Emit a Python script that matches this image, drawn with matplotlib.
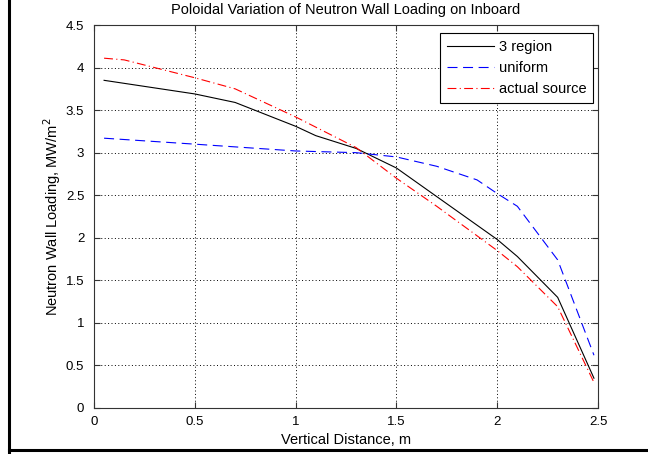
import numpy as np
import matplotlib.pyplot as plt
from matplotlib.lines import Line2D

plt.rcParams['font.family'] = ['Liberation Sans', 'DejaVu Sans']

# 3 region
x_3reg = [0.05, 0.5, 0.7, 1.0, 1.1, 1.3, 1.5, 2.0, 2.1, 2.3, 2.48]
y_3reg = [3.85, 3.69, 3.59, 3.31, 3.20, 3.05, 2.82, 1.98, 1.78, 1.30, 0.35]

# uniform
x_unif = [0.05, 0.5, 1.0, 1.3, 1.5, 1.7, 1.9, 2.0, 2.1, 2.3, 2.48]
y_unif = [3.17, 3.10, 3.02, 3.00, 2.95, 2.84, 2.68, 2.52, 2.37, 1.74, 0.62]

# actual source
x_act = [0.05, 0.15, 0.5, 0.7, 1.0, 1.3, 1.5, 1.7, 2.0, 2.1, 2.3, 2.48]
y_act = [4.11, 4.09, 3.88, 3.75, 3.42, 3.06, 2.70, 2.37, 1.85, 1.66, 1.19, 0.30]

fig = plt.figure(figsize=(6.48, 4.54), dpi=100)
ax = fig.add_axes([94/648, 46/454, 504/648, 383/454])

ax.plot(x_3reg, y_3reg, color='black', lw=0.8, ls='-', label='3 region')
ax.plot(x_unif, y_unif, color='blue', lw=0.8, ls=(0, (9, 5)), label='uniform')
ax.plot(x_act, y_act, color='red', lw=0.8, ls=(0, (8, 3, 1, 3)), label='actual source')

ax.set_xlim(0, 2.5)
ax.set_ylim(0, 4.5)
ax.set_xticks([0, 0.5, 1, 1.5, 2, 2.5])
ax.set_xticklabels(['0', '0.5', '1', '1.5', '2', '2.5'])
ax.set_yticks(np.arange(0, 4.6, 0.5))
ax.set_yticklabels(['0', '0.5', '1', '1.5', '2', '2.5', '3', '3.5', '4', '4.5'])
ax.tick_params(direction='in', top=True, right=True, labelsize=9.5, length=4,
               color='#333333')
ax.tick_params(axis='x', pad=6)
ax.tick_params(axis='y', pad=7)
for s in ax.spines.values():
    s.set_color('#333333')
    s.set_linewidth(0.8)
ax.grid(True, ls=(0, (1, 2.5)), color='black', lw=0.7)

ax.set_title('Poloidal Variation of Neutron Wall Loading on Inboard', fontsize=10.5, pad=8)
ax.set_xlabel('Vertical Distance, m', fontsize=10.5, va='top')
ax.xaxis.set_label_coords(0.5, -0.065)
ax.set_ylabel('Neutron Wall Loading, MW/m$^2$', fontsize=10.5)
ax.yaxis.set_label_coords(-0.062, 0.5)

leg = ax.legend(loc='upper right', bbox_to_anchor=(0.99, 0.979), fontsize=10.5,
                fancybox=False, framealpha=1, edgecolor='black',
                handlelength=3.2, borderpad=0.45, labelspacing=0.5,
                handletextpad=0.35, borderaxespad=0)
leg.get_frame().set_linewidth(0.8)

# figure border on left and bottom
fig.add_artist(Line2D([9/648, 9/648], [0, 1], transform=fig.transFigure,
                      color='black', lw=2.2))
fig.add_artist(Line2D([9/648, 1], [4/454, 4/454], transform=fig.transFigure,
                      color='black', lw=2.2))

fig.savefig('out.png', dpi=100)
